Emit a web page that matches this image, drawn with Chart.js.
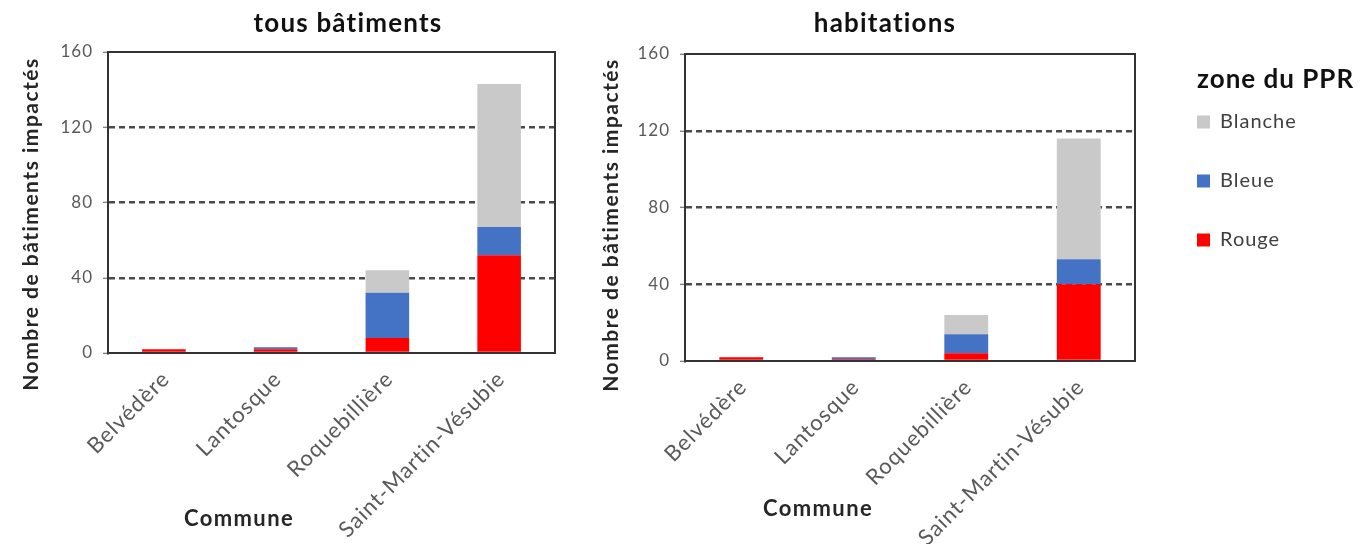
<!DOCTYPE html>
<html><head><meta charset="utf-8">
<script src="https://cdn.jsdelivr.net/npm/chart.js@4/dist/chart.umd.min.js"></script>
<style>
html,body{margin:0;padding:0;background:#fff;width:1362px;height:544px;overflow:hidden}
#c1{position:absolute;left:0;top:0}
#c2{position:absolute;left:590px;top:0}
</style></head><body>
<canvas id="c1" width="580" height="544"></canvas>
<canvas id="c2" width="772" height="544"></canvas>
<script>
// ---- data ----
const communes = ['Belvédère', 'Lantosque', 'Roquebillière', 'Saint-Martin-Vésubie'];
const zoneNames = ['Rouge', 'Bleue', 'Blanche'];
const zoneColors = ['#FF0000', '#4472C4', '#C9C9C9'];
const tousRouge   = [2, 2, 8, 52];
const tousBleue   = [0, 1, 24, 15];
const tousBlanche = [0, 0, 12, 76];
const habRouge    = [2, 1, 4, 40];
const habBleue    = [0, 1, 10, 13];
const habBlanche  = [0, 0, 10, 63];
const yTickValues = [0, 40, 80, 120, 160];

const FONT = 'Lato, "Open Sans", sans-serif';
Chart.defaults.font.family = FONT;

const spacingPlugin = {
  id: 'spacing',
  beforeDraw(chart) { chart.ctx.letterSpacing = '1px'; },
  afterDraw(chart) { chart.ctx.letterSpacing = '0px'; }
};

const textPlugin = {
  id: 'texts',
  afterDraw(chart, args, opts) {
    const ctx = chart.ctx;
    for (const t of (opts.items || [])) {
      ctx.save();
      ctx.letterSpacing = (t.ls || 0) + 'px';
      ctx.font = t.font;
      ctx.fillStyle = t.color || '#000';
      ctx.textAlign = t.align || 'center';
      ctx.textBaseline = 'middle';
      ctx.translate(t.x, t.y);
      if (t.rot) ctx.rotate(t.rot);
      ctx.fillText(t.text, 0, 0);
      ctx.restore();
    }
  }
};

const legendPlace = {
  id: 'legendPlace',
  afterInit(chart, args, opts) {
    const l = chart.legend;
    if (!l || !opts.width) return;
    const f = l.fit.bind(l);
    l.fit = function () { f(); this.width = opts.width; };
  },
  afterLayout(chart, args, opts) {
    const l = chart.legend;
    if (!l || !opts.width) return;
    l.left += opts.dx; l.top += opts.dy;
  }
};

function datasets(r, b, w) {
  const vals = [r, b, w];
  return zoneNames.map((n, i) => ({
    label: n, data: vals[i], backgroundColor: zoneColors[i],
    borderWidth: 0, categoryPercentage: 1, barPercentage: 0.39
  }));
}

function makeOptions(cfg) {
  return {
    responsive: false, animation: false, devicePixelRatio: 1,
    layout: { padding: cfg.padding },
    plugins: {
      title: { display: false },
      tooltip: { enabled: false },
      legend: cfg.legend || { display: false },
      texts: { items: cfg.texts },
      legendPlace: cfg.legendPlace || {}
    },
    scales: {
      x: {
        stacked: true,
        grid: { display: false, drawTicks: false },
        border: { color: '#333333', width: 2 },
        ticks: { color: '#595959', font: { size: 22 }, minRotation: 45, maxRotation: 45, padding: 13, labelOffset: 2, autoSkip: false },
        afterFit: s => { s.height = cfg.xHeight; }
      },
      x2: {
        position: 'top', grid: { display: false, drawTicks: false }, ticks: { display: false },
        border: { color: '#333333', width: 2 },
        afterFit: s => { s.height = 0; }
      },
      y: {
        stacked: true, min: 0, max: 160,
        afterBuildTicks: s => { s.ticks = yTickValues.map(v => ({ value: v })); },
        ticks: { color: '#595959', font: { size: 17 }, padding: 10 },
        grid: {
          color: c => (c.tick && (c.tick.value === 0 || c.tick.value === 160)) ? 'rgba(0,0,0,0)' : '#4a4a4a',
          lineWidth: 2.5, drawTicks: true, tickLength: 5, tickColor: '#595959', tickWidth: 1
        },
        border: { color: '#333333', width: 2, dash: [6, 4] },
        afterFit: s => { s.width = cfg.yWidth; }
      },
      y2: {
        position: 'right', min: 0, max: 160,
        grid: { display: false, drawTicks: false }, ticks: { display: false },
        border: { color: '#333333', width: 2 },
        afterFit: s => { s.width = 0; }
      }
    }
  };
}

new Chart(document.getElementById('c1'), {
  type: 'bar',
  data: { labels: communes, datasets: datasets(tousRouge, tousBleue, tousBlanche) },
  options: makeOptions({
    padding: { left: 0, right: 25, top: 52, bottom: 0 },
    yWidth: 108, xHeight: 191,
    texts: [
      { text: 'tous bâtiments', x: 348, y: 24, font: 'bold 26px ' + FONT, color: '#111', ls: 1.2 },
      { text: 'Nombre de bâtiments impactés', x: 31, y: 224, rot: -Math.PI / 2, font: 'bold 21px ' + FONT, color: '#262626', ls: 1.5 },
      { text: 'Commune', x: 239, y: 519, font: 'bold 22px ' + FONT, color: '#262626', ls: 1.4 }
    ]
  }),
  plugins: [spacingPlugin, textPlugin]
});

new Chart(document.getElementById('c2'), {
  type: 'bar',
  data: { labels: communes, datasets: datasets(habRouge, habBleue, habBlanche) },
  options: makeOptions({
    padding: { left: 0, right: 0, top: 54, bottom: 0 },
    yWidth: 95, xHeight: 183,
    legend: {
      display: true, position: 'right', align: 'start', reverse: true,
      labels: { color: '#404040', font: { size: 20 }, boxWidth: 13, boxHeight: 13, padding: 39 }
    },
    legendPlace: { width: 227, dx: 23, dy: 19 },
    texts: [
      { text: 'habitations', x: 295, y: 24, font: 'bold 26px ' + FONT, color: '#111', ls: 1.2 },
      { text: 'Nombre de bâtiments impactés', x: 21, y: 225, rot: -Math.PI / 2, font: 'bold 21px ' + FONT, color: '#262626', ls: 1.5 },
      { text: 'Commune', x: 228, y: 509, font: 'bold 22px ' + FONT, color: '#262626', ls: 1.4 },
      { text: 'zone du PPR', x: 607, y: 80, align: 'left', font: 'bold 26px ' + FONT, color: '#111', ls: 1 }
    ]
  }),
  plugins: [spacingPlugin, textPlugin, legendPlace]
});
</script>
</body></html>
